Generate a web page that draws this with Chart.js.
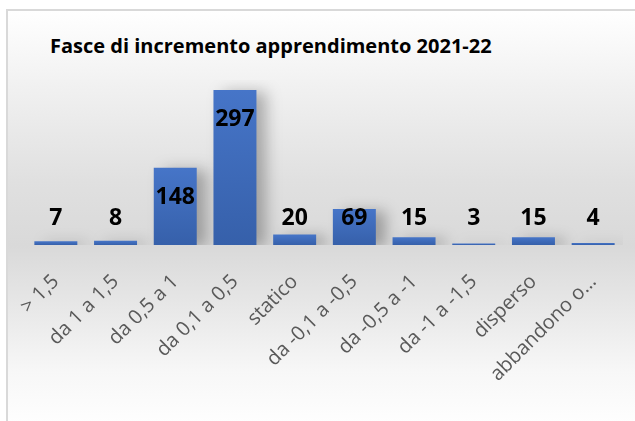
<!doctype html>
<html lang="it">

<head>
    <meta charset="utf-8">
    <title>Fasce di incremento</title>
    <script src="https://cdn.jsdelivr.net/npm/chart.js"></script>
    <style>
        body { margin: 0; width: 635px; height: 421px; overflow: hidden; background: #fff; }
        #frame {
            position: absolute; left: 6px; top: 9px; width: 640px; height: 430px;
            border: 2px solid #d9d9d9;
            background: linear-gradient(to bottom, #ffffff 0px, #f0f0f0 80px, #e0e0e0 170px, #d9d9d9 235px, #e6e6e6 290px, #f7f7f7 360px, #ffffff 420px);
        }
        #titolo {
            position: absolute; left: 50px; top: 32px;
            font: bold 20px "Open Sans", sans-serif; color: #000;
        }
        #grafico { position: absolute; left: 0; top: 0; }
    </style>
</head>

<body>
    <div id="frame"></div>
    <div id="titolo">Fasce di incremento apprendimento 2021-22</div>
    <canvas id="grafico" width="635" height="421"></canvas>

    <script>
        const categorie = ["> 1,5", "da 1 a 1,5", "da 0,5 a 1", "da 0,1 a 0,5", "statico",
            "da -0,1 a -0,5", "da -0,5 a -1", "da -1 a -1,5", "disperso", "abbandono o…"];
        const valori = [7, 8, 148, 297, 20, 69, 15, 3, 15, 4];

        function coloreBarra(c) {
            const chart = c.chart;
            const y = chart.scales.y;
            if (!y || c.dataIndex == null) return "#4472c4";
            const top = y.getPixelForValue(valori[c.dataIndex]);
            const bottom = y.getPixelForValue(0);
            if (!isFinite(top) || bottom - top < 1) return "#4472c4";
            const g = chart.ctx.createLinearGradient(0, top, 0, bottom);
            g.addColorStop(0, "#4675c8");
            g.addColorStop(1, "#3660aa");
            return g;
        }

        // ombra morbida sotto le barre
        const ombra = {
            id: "ombra",
            beforeDatasetDraw(chart) {
                const ctx = chart.ctx;
                ctx.save();
                ctx.shadowColor = "rgba(0,0,0,0.28)";
                ctx.shadowBlur = 14;
                ctx.shadowOffsetX = 10;
                ctx.shadowOffsetY = 2;
            },
            afterDatasetDraw(chart) {
                chart.ctx.restore();
            }
        };

        // etichette dati: dentro la barra in alto se c'è spazio, altrimenti sopra
        const etichette = {
            id: "etichette",
            afterDatasetsDraw(chart) {
                const ctx = chart.ctx;
                const y = chart.scales.y;
                const meta = chart.getDatasetMeta(0);
                ctx.save();
                ctx.font = "bold 23px 'Open Sans', sans-serif";
                ctx.fillStyle = "#000";
                ctx.textAlign = "center";
                ctx.textBaseline = "middle";
                meta.data.forEach((bar, i) => {
                    const ly = Math.min(bar.y + 30, y.getPixelForValue(50));
                    ctx.fillText(String(valori[i]), bar.x, ly);
                });
                ctx.restore();
            }
        };

        new Chart(document.getElementById("grafico"), {
            type: "bar",
            data: {
                labels: categorie,
                datasets: [{
                    data: valori,
                    backgroundColor: coloreBarra,
                    borderWidth: 0,
                    categoryPercentage: 1,
                    barPercentage: 0.72
                }]
            },
            plugins: [ombra, etichette],
            options: {
                responsive: false,
                animation: false,
                layout: { padding: { top: 80, left: 26, right: 12, bottom: 0 } },
                plugins: { legend: { display: false }, tooltip: { enabled: false } },
                scales: {
                    y: { display: false, min: 0, max: 316 },
                    x: {
                        grid: { display: false },
                        border: { display: false },
                        ticks: {
                            color: "#595959",
                            font: { family: "'Open Sans', sans-serif", size: 20 },
                            minRotation: 45, maxRotation: 45,
                            padding: 17,
                            autoSkip: false
                        },
                        afterFit(axis) { axis.height = 176; }
                    }
                }
            }
        });
    </script>
</body>

</html>
